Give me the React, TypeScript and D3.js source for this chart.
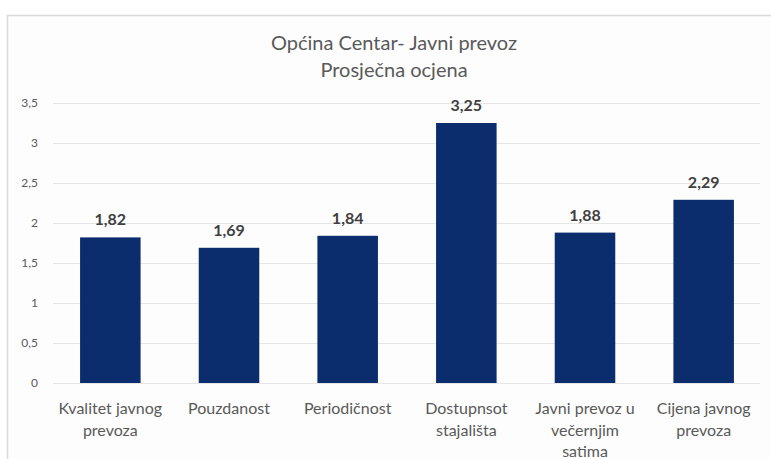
import React, { useRef, useEffect } from 'react';
import * as d3 from 'd3';

const categories = [
  'Kvalitet javnog prevoza',
  'Pouzdanost',
  'Periodičnost',
  'Dostupnsot stajališta',
  'Javni prevoz u večernjim satima',
  'Cijena javnog prevoza',
];
const categoryLines = [
  ['Kvalitet javnog', 'prevoza'],
  ['Pouzdanost'],
  ['Periodičnost'],
  ['Dostupnsot', 'stajališta'],
  ['Javni prevoz u', 'večernjim', 'satima'],
  ['Cijena javnog', 'prevoza'],
];
const values = [1.82, 1.69, 1.84, 3.25, 1.88, 2.29];
const yTicks = [0, 0.5, 1, 1.5, 2, 2.5, 3, 3.5];
const titleLines = ['Općina Centar- Javni prevoz', 'Prosječna ocjena'];

const width = 771;
const height = 459;
const font = 'Lato, "Open Sans", sans-serif';

const App = () => {
  const ref = useRef<SVGSVGElement | null>(null);

  useEffect(() => {
    const svg = d3.select(ref.current);
    svg.selectAll('*').remove();

    const margin = { top: 103, right: 8, bottom: 76, left: 51 };

    // chart frame
    svg.append('rect')
      .attr('x', 7.5)
      .attr('y', 15.5)
      .attr('width', 800)
      .attr('height', 500)
      .attr('fill', '#fdfdfd')
      .attr('stroke', '#d9d9d9')
      .attr('stroke-width', 1.5);

    const x = d3.scaleBand()
      .domain(categories)
      .range([margin.left, width - margin.right])
      .paddingInner(0.49)
      .paddingOuter(0.245);

    const y = d3.scaleLinear()
      .domain([0, 3.5])
      .range([height - margin.bottom, margin.top]);

    // gridlines
    svg.append('g')
      .selectAll('line')
      .data(yTicks)
      .enter()
      .append('line')
      .attr('x1', 53)
      .attr('x2', 760)
      .attr('y1', d => Math.round(y(d)) + 0.5)
      .attr('y2', d => Math.round(y(d)) + 0.5)
      .attr('stroke', '#e6e6e6')
      .attr('stroke-width', 1.2);

    // y tick labels
    svg.append('g')
      .selectAll('text')
      .data(yTicks)
      .enter()
      .append('text')
      .attr('x', 38)
      .attr('y', d => y(d) + 4)
      .attr('text-anchor', 'end')
      .attr('font-family', font)
      .attr('font-size', 12)
      .attr('fill', '#595959')
      .text(d => String(d).replace('.', ','));

    // bars
    svg.append('g')
      .selectAll('rect')
      .data(values)
      .enter()
      .append('rect')
      .attr('x', (d, i) => x(categories[i]) as number)
      .attr('y', d => y(d))
      .attr('width', x.bandwidth())
      .attr('height', d => y(0) - y(d))
      .attr('fill', '#0b2c6d');

    // value labels
    svg.append('g')
      .selectAll('text')
      .data(values)
      .enter()
      .append('text')
      .attr('x', (d, i) => (x(categories[i]) as number) + x.bandwidth() / 2)
      .attr('y', d => y(d) - 12)
      .attr('text-anchor', 'middle')
      .attr('font-family', font)
      .attr('font-weight', 'bold')
      .attr('font-size', 16)
      .attr('fill', '#404040')
      .text(d => d.toFixed(2).replace('.', ','));

    // category labels
    const cat = svg.append('g')
      .selectAll('text')
      .data(categoryLines)
      .enter()
      .append('text')
      .attr('text-anchor', 'middle')
      .attr('font-family', font)
      .attr('font-size', 16)
      .attr('fill', '#595959');
    cat.selectAll('tspan')
      .data((d, i) => d.map(line => ({ line, i })))
      .enter()
      .append('tspan')
      .attr('x', d => (x(categories[d.i]) as number) + x.bandwidth() / 2)
      .attr('y', (d, j) => 414 + j * 21.5)
      .text(d => d.line);

    // title
    svg.append('g')
      .selectAll('text')
      .data(titleLines)
      .enter()
      .append('text')
      .attr('x', 394)
      .attr('y', (d, i) => 50 + i * 27)
      .attr('text-anchor', 'middle')
      .attr('font-family', font)
      .attr('font-size', 20)
      .attr('fill', '#595959')
      .text(d => d);
  }, []);

  return (
    <svg
      ref={ref}
      width={width}
      height={height}
      style={{ position: 'absolute', left: 0, top: 0, background: '#ffffff' }}
    />
  );
};

export default App;
